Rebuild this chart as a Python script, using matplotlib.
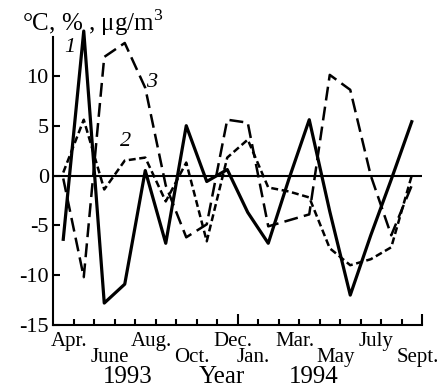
import numpy as np
import matplotlib
matplotlib.use('Agg')
import matplotlib.pyplot as plt
from matplotlib.transforms import blended_transform_factory

plt.rcParams['font.family'] = ['Liberation Serif', 'DejaVu Serif']
plt.rcParams['mathtext.fontset'] = 'custom'
plt.rcParams['mathtext.rm'] = 'Liberation Serif'
plt.rcParams['axes.unicode_minus'] = False
plt.rcParams['lines.scale_dashes'] = False

# monthly values, Apr 1993 .. Sept 1994
curve1 = [-6.4, 14.5, -12.8, -10.9, 0.5, -6.8, 5.0, -0.6, 0.6, -3.7,
          -6.8, -0.4, 5.6, -3.6, -12.0, -6.0, -0.4, 5.4]
curve2 = [0.3, 5.6, -1.4, 1.5, 1.8, -2.6, 1.3, -6.6, 1.8, 3.6,
          -1.2, -1.6, -2.2, -7.3, -9.0, -8.4, -7.2, 0.0]
curve3 = [-0.3, -10.2, 11.9, 13.3, 8.8, -1.0, -6.2, -4.9, 5.6, 5.3,
          -5.1, -4.5, -3.9, 10.1, 8.6, 0.0, -6.0, -1.0]

month_labels = ['Apr.', 'June', 'Aug.', 'Oct.', 'Dec.', 'Jan.', 'Mar.', 'May', 'July', 'Sept.']
month_idx = [0, 2, 4, 6, 8, 9, 11, 13, 15, 17]
year_labels = ['1993', 'Year', '1994']
year_pos = [3.66, 8.25, 12.7]

n = len(curve1)
x = np.arange(n) + 0.5

fig = plt.figure(figsize=(4.4, 3.87), dpi=100)
ax = fig.add_axes([53 / 440, 1 - 325 / 387, 369 / 440, 288 / 387])

ax.plot(x, curve1, color='black', lw=2.3, clip_on=False)
l2, = ax.plot(x, curve2, color='black', lw=1.8)
l2.set_dashes([5, 2.6])
l3, = ax.plot(x, curve3, color='black', lw=1.8)
l3.set_dashes([10, 4.5])
ax.axhline(0, color='black', lw=1.5)

ax.set_xlim(0, n)
ax.set_ylim(-15, 13.9)
ax.spines['top'].set_visible(False)
ax.spines['right'].set_visible(False)
for s in ['left', 'bottom']:
    ax.spines[s].set_linewidth(1.5)

ax.set_yticks([-15, -10, -5, 0, 5, 10])
ax.tick_params(axis='y', direction='in', length=5, width=1.5, labelsize=16, pad=3)
ax.set_xticks([9, 18])
ax.set_xticks(np.arange(1, n), minor=True)
ax.set_xticklabels([])
ax.tick_params(axis='x', which='major', direction='in', length=8, width=1.5)
ax.tick_params(axis='x', which='minor', direction='in', length=4, width=1.5)

trans = blended_transform_factory(ax.transData, fig.transFigure)
for k, (lab, i) in enumerate(zip(month_labels, month_idx)):
    yb = 1 - 346 / 387 if k % 2 == 0 else 1 - 362 / 387
    ax.text(i + 0.78, yb, lab, transform=trans, ha='center', va='baseline', fontsize=15)
for lab, p in zip(year_labels, year_pos):
    ax.text(p, 1 - 383 / 387, lab, transform=trans, ha='center', va='baseline', fontsize=18)

ax.text(0.83, 12.8, '1', style='italic', fontsize=16, ha='center', va='center')
ax.text(3.56, 3.4, '2', style='italic', fontsize=16, ha='center', va='center')
ax.text(4.83, 9.3, '3', style='italic', fontsize=16, ha='center', va='center')

fig.text(22 / 440, 1 - 31 / 387, '°C, % , μg/m$^3$', fontsize=18, ha='left', va='baseline')

fig.savefig('out.png', dpi=100)
